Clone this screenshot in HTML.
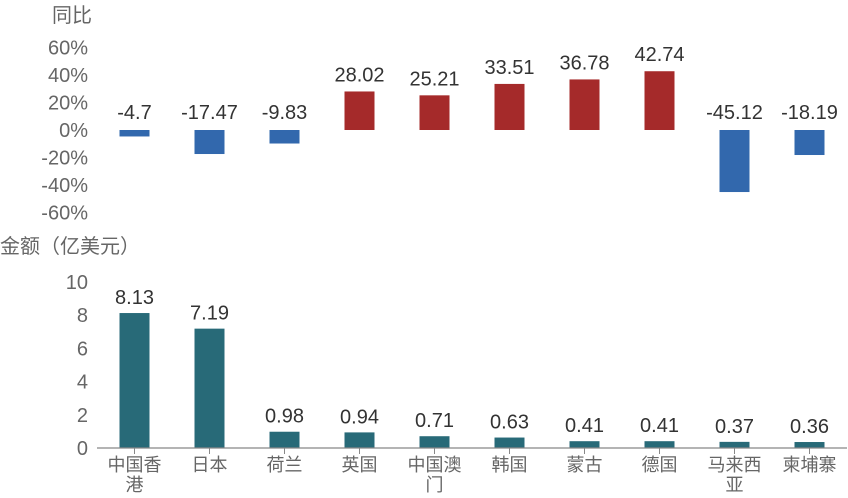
<!DOCTYPE html>
<html><head><meta charset="utf-8"><style>
body{margin:0;background:#fff;font-family:"Liberation Sans","Noto Sans CJK SC",sans-serif}
svg text{font-family:"Liberation Sans","Noto Sans CJK SC",sans-serif}
</style></head><body>
<svg id="c" width="848" height="493" xmlns="http://www.w3.org/2000/svg"></svg>
<script>
const categories=["中国香港","日本","荷兰","英国","中国澳门","韩国","蒙古","德国","马来西亚","柬埔寨"];
const catLines=[["中国香","港"],["日本"],["荷兰"],["英国"],["中国澳","门"],["韩国"],["蒙古"],["德国"],["马来西","亚"],["柬埔寨"]];
const growth=[-4.7,-17.47,-9.83,28.02,25.21,33.51,36.78,42.74,-45.12,-18.19];
const amount=[8.13,7.19,0.98,0.94,0.71,0.63,0.41,0.41,0.37,0.36];
const pctTicks=[60,40,20,0,-20,-40,-60];
const amtTicks=[10,8,6,4,2,0];
const svg=document.getElementById('c');
const NS="http://www.w3.org/2000/svg";
function mk(t,a,txt){const e=document.createElementNS(NS,t);for(const k in a)e.setAttribute(k,a[k]);if(txt!==undefined)e.textContent=txt;svg.appendChild(e);return e;}
const xc=i=>134.5+i*75;
const yTop=v=>130-v*1.375;
const yBot=v=>448-v*16.6;
let e;
e=mk('text',{x:72,y:22,'font-size':20,fill:'#666','text-anchor':'middle'},'同比');


pctTicks.forEach(t=>{
 e=mk('text',{x:88,y:yTop(t)+7,'font-size':20,fill:'#666','text-anchor':'end'},t+'%');
 
 
});
growth.forEach((v,i)=>{
 const y0=yTop(0),y1=yTop(v);
 e=mk('rect',{x:xc(i)-15,y:Math.min(y0,y1),width:30,height:Math.abs(y1-y0),fill:v<0?'#3268ad':'#a52a2a'});
 
 
 const ly=v<0?yTop(0)-11:y1-10;
 e=mk('text',{x:xc(i),y:ly,'font-size':20,fill:'#333','text-anchor':'middle'},String(v));
 
 
});
e=mk('text',{x:0,y:253,'font-size':20,fill:'#666'},'金额（亿美元）');


amtTicks.forEach(t=>{
 e=mk('text',{x:88,y:yBot(t)+7,'font-size':20,fill:'#666','text-anchor':'end'},String(t));
 
 
});
amount.forEach((v,i)=>{
 e=mk('rect',{x:xc(i)-15,y:yBot(v),width:30,height:yBot(0)-yBot(v),fill:'#286a78'});
 
 
 e=mk('text',{x:xc(i),y:yBot(v)-9,'font-size':20,fill:'#333','text-anchor':'middle'},v.toFixed(2));
 
 
 e=mk('line',{x1:xc(i),x2:xc(i),y1:448,y2:454,stroke:'#888'});
 
 
 catLines[i].forEach((ln,j)=>{
  e=mk('text',{x:xc(i),y:471+j*20,'font-size':18,fill:'#666','text-anchor':'middle'},ln);
  
  
 });
});
e=mk('line',{x1:97,x2:847,y1:448,y2:448,stroke:'#888','stroke-width':1.2});


</script>
</body></html>
